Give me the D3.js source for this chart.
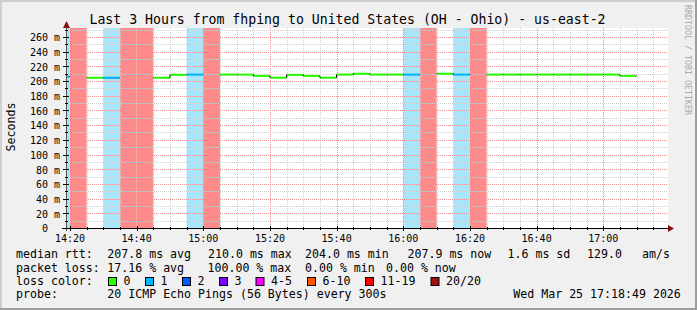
<!DOCTYPE html>
<html><head><meta charset="utf-8">
<script src="https://cdn.jsdelivr.net/npm/d3@7"></script>
<style>
html,body{margin:0;padding:0;background:#F0F0F0;}
svg{display:block;}
text{font-family:"DejaVu Sans Mono",monospace;fill:#000;}
</style>
</head><body>
<svg id="c" width="697" height="310"></svg>
<script>
// ---------- data ----------
const title = "Last 3 Hours from fhping to United States (OH - Ohio) - us-east-2";
const yAxisTitle = "Seconds";
const watermark = "RRDTOOL / TOBI OETIKER";
const windowStart = [2026, 2, 25, 14, 18, 49];
const windowEnd = [2026, 2, 25, 17, 18, 49];
const firstStep = [2026, 2, 25, 14, 15, 0];
const stepMinutes = 5;
// median RTT per 5-minute step (ms); null = 100% loss
const medianMs = [206, null, 204.5, 204.5, null, null, 204.5, 208.5, 208.8, null,
  208.8, 208.8, 207, 204.6, 208.5, 207, 204.6, 208.8, 210, 208.8,
  208.8, 208.8, null, 210, 208.8, null, 208.8, 208.8, 208.8, 208.8,
  208.8, 208.8, 208.8, 208.8, 207];
// lost pings (of 20) per step
const lostPings = [1, 20, 0, 1, 20, 20, 0, 0, 1, 20,
  0, 0, 0, 0, 0, 0, 0, 0, 0, 0,
  0, 1, 20, 0, 1, 20, 0, 0, 0, 0,
  0, 0, 0, 0, 0];
const yTickValues = [0, 20, 40, 60, 80, 100, 120, 140, 160, 180, 200, 220, 240, 260];
const yMinorValues = [10, 30, 50, 70, 90, 110, 130, 150, 170, 190, 210, 230, 250, 270];
const yMax = 272.2;
const lossLabels = ["0", "1", "2", "3", "4-5", "6-10", "11-19", "20/20"];
const lossUpper = [0, 1, 2, 3, 5, 10, 19, 20];
const lossColors = ["#26ff00", "#00b8ff", "#0059ff", "#7e00ff", "#ff00ff", "#ff5500", "#ff0000", "#a01010"];
const rttLabel = "median rtt:";
const rttStats = ["207.8 ms avg", "210.0 ms max", "204.0 ms min", "207.9 ms now", "1.6 ms sd", "129.0", "am/s"];
const lossLabel = "packet loss:";
const lossStats = ["17.16 % avg", "100.00 % max", "0.00 % min", "0.00 % now"];
const colorLabel = "loss color:";
const probeLabel = "probe:";
const probeText = "20 ICMP Echo Pings (56 Bytes) every 300s";
const stampText = "Wed Mar 25 17:18:49 2026";

// ---------- layout / style ----------
const W = 697, H = 310;
const L = 66, T = 28, PW = 600, PH = 200;
const bandColors = {1: "#a8e5fb", 7: "#ff8a8a"};
const svg = d3.select("#c");
const mk = a => new Date(a[0], a[1], a[2], a[3], a[4], a[5]);
const x = d3.scaleTime().domain([mk(windowStart), mk(windowEnd)]).range([L, L + PW]);
const y = d3.scaleLinear().domain([0, yMax]).range([T + PH, T]);
const lossIdx = n => lossUpper.findIndex(u => n <= u);

const steps = medianMs.map((v, i) => {
  const t0 = d3.timeMinute.offset(mk(firstStep), i * stepMinutes);
  return {t0, t1: d3.timeMinute.offset(t0, stepMinutes), v, li: lossIdx(lostPings[i])};
});

// background + border
svg.append("rect").attr("width", W).attr("height", H).attr("fill", "#F0F0F0");
svg.append("path").attr("d", `M1,${H}V1H${W}`).attr("stroke", "#CFCFCF").attr("stroke-width", 2).attr("fill", "none");
svg.append("path").attr("d", `M0,${H - 1}H${W - 1}V0`).attr("stroke", "#9E9E9E").attr("stroke-width", 2).attr("fill", "none");

svg.append("defs").append("clipPath").attr("id", "clip")
  .append("rect").attr("x", L).attr("y", T).attr("width", PW + 2).attr("height", PH);

// canvas
svg.append("rect").attr("x", L).attr("y", T).attr("width", PW + 2).attr("height", PH).attr("fill", "#fff");

const bandsG = svg.append("g").attr("clip-path", "url(#clip)");
// loss bands
bandsG.selectAll("rect.band").data(steps.filter(d => d.li > 0)).join("rect")
  .attr("class", "band")
  .attr("x", d => x(d.t0)).attr("width", d => x(d.t1) - x(d.t0))
  .attr("y", T).attr("height", PH)
  .attr("fill", d => bandColors[d.li] || lossColors[d.li]).attr("fill-opacity", d => bandColors[d.li] ? 1 : 0.35);

// grid
const grid = svg.append("g").attr("stroke-width", 1).attr("stroke-dasharray", "1,1").attr("fill", "none");
const minorTimes = x.ticks(d3.timeMinute.every(5)).filter(t => t.getMinutes() % 20 !== 0);
const majorTimes = x.ticks(d3.timeMinute.every(20));
const gx = t => Math.round(x(t)) + 0.5;
const gy = v => Math.round(y(v)) + 0.5;
grid.selectAll("line.vmin").data(minorTimes).join("line")
  .attr("x1", gx).attr("x2", gx).attr("y1", T).attr("y2", T + PH).attr("stroke", "#cfcfcf");
grid.selectAll("line.hmin").data(yMinorValues.filter(v => v < yMax)).join("line")
  .attr("x1", L).attr("x2", L + PW + 2).attr("y1", gy).attr("y2", gy).attr("stroke", "#cfcfcf");
grid.selectAll("line.vmaj").data(majorTimes).join("line")
  .attr("x1", gx).attr("x2", gx).attr("y1", T).attr("y2", T + PH).attr("stroke", "#ee9090");
grid.selectAll("line.hmaj").data(yTickValues.filter(v => v > 0)).join("line")
  .attr("x1", L).attr("x2", L + PW + 2).attr("y1", gy).attr("y2", gy).attr("stroke", "#ee9090");

// median line: thin black step path with risers, colored segments on top
const plot = svg.append("g").attr("clip-path", "url(#clip)");
const runs = [];
let cur = null;
steps.forEach(d => {
  if (d.v == null) { cur = null; return; }
  if (!cur) { cur = []; runs.push(cur); }
  cur.push(d);
});
const stepLine = d3.line().x(p => p[0]).y(p => p[1]);
runs.forEach(run => {
  const pts = [];
  run.forEach(d => { pts.push([x(d.t0), y(d.v)]); pts.push([x(d.t1), y(d.v)]); });
  plot.append("path").attr("d", stepLine(pts)).attr("fill", "none").attr("stroke", "#000").attr("stroke-width", 1);
});
plot.selectAll("line.seg").data(steps.filter(d => d.v != null)).join("line")
  .attr("class", "seg")
  .attr("x1", d => x(d.t0) + 0.5).attr("x2", d => x(d.t1) - 0.5)
  .attr("y1", d => y(d.v)).attr("y2", d => y(d.v))
  .attr("stroke", d => lossColors[d.li]).attr("stroke-width", 2);

// axes
const ax = svg.append("g");
ax.append("line").attr("x1", 62).attr("x2", 668).attr("y1", T + PH + 0.5).attr("y2", T + PH + 0.5).attr("stroke", "#000");
ax.append("line").attr("x1", L + 0.5).attr("x2", L + 0.5).attr("y1", 22).attr("y2", T + PH + 3).attr("stroke", "#555");
ax.selectAll("line.xt").data(majorTimes).join("line")
  .attr("x1", gx).attr("x2", gx).attr("y1", T + PH - 2).attr("y2", T + PH + 3).attr("stroke", "#000");
ax.selectAll("line.xm").data(minorTimes).join("line")
  .attr("x1", gx).attr("x2", gx).attr("y1", T + PH - 1).attr("y2", T + PH + 2).attr("stroke", "#000");
ax.selectAll("line.yt").data(yTickValues).join("line")
  .attr("x1", L - 3).attr("x2", L + 3).attr("y1", gy).attr("y2", gy).attr("stroke", "#000");
ax.selectAll("line.ym").data(yMinorValues.filter(v => v < yMax)).join("line")
  .attr("x1", L - 1).attr("x2", L + 2).attr("y1", gy).attr("y2", gy).attr("stroke", "#000");
// arrows
ax.append("path").attr("d", `M${L + 0.5},21L${L - 3},28L${L + 4},28Z`).attr("fill", "#7f1010");
ax.append("path").attr("d", `M668,${T + PH - 3}L674,${T + PH + 0.5}L668,${T + PH + 4}Z`).attr("fill", "#7f1010");

// tick labels
const fmt = d3.timeFormat("%H:%M");
svg.selectAll("text.xl").data(majorTimes).join("text")
  .attr("x", d => x(d)).attr("y", 241.5).attr("text-anchor", "middle")
  .attr("font-size", "10px").text(fmt);
svg.selectAll("text.yl").data(yTickValues).join("text")
  .attr("x", d => d === 0 ? 48 : 60).attr("y", d => y(d) + 4.3).attr("text-anchor", "end")
  .attr("font-size", "10px").text(d => d === 0 ? "0" : d + " m");

// titles
svg.append("text").attr("x", 347.5).attr("y", 24).attr("text-anchor", "middle")
  .attr("font-size", "13.2px").text(title);
svg.append("text").attr("transform", "translate(15,127) rotate(-90)").attr("text-anchor", "middle")
  .attr("font-size", "11.6px").text(yAxisTitle);
svg.append("text").attr("transform", "translate(685,5) rotate(90)")
  .attr("font-size", "8.3px").style("fill", "#a8a8a8").text(watermark);

// legend
const lg = svg.append("g").attr("font-size", "11.6px");
const rowY = [258.3, 271.6, 285, 298.3];
const put = (s, xx, yy) => lg.append("text").attr("x", xx).attr("y", yy).text(s).attr("xml:space", "preserve");
put(rttLabel, 16, rowY[0]);
const rttX = [107.3, 208, 305, 407.5, 507.5, 587, 642];
rttStats.forEach((s, i) => put(s, rttX[i], rowY[0]));
put(lossLabel, 16, rowY[1]);
const lossX = [107.3, 207.5, 305, 386];
lossStats.forEach((s, i) => put(s, lossX[i], rowY[1]));
put(colorLabel, 16, rowY[2]);
const boxX = [108.5, 145.5, 182.5, 219.5, 256, 307.5, 365.5, 431];
lossLabels.forEach((s, i) => {
  lg.append("rect").attr("x", boxX[i]).attr("y", 277.5).attr("width", 8).attr("height", 8)
    .attr("fill", lossColors[i]).attr("stroke", "#000").attr("stroke-width", 1);
  put(s, boxX[i] + 15, rowY[2]);
});
put(probeLabel, 16, rowY[3]);
put(probeText, 107.3, rowY[3]);
put(stampText, 513.3, rowY[3]);
</script>
</body></html>
